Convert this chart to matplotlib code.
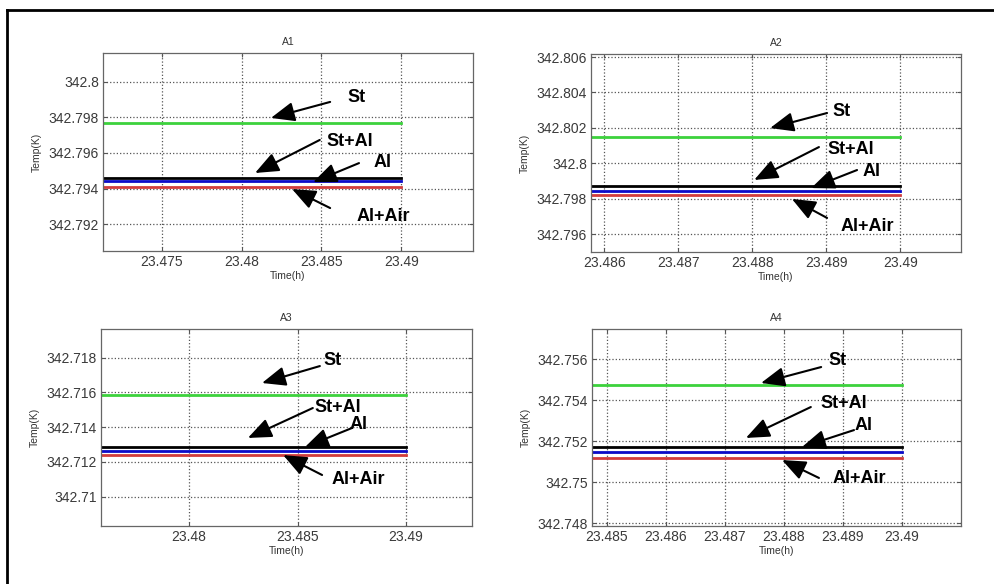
import matplotlib
matplotlib.use("Agg")
import matplotlib.pyplot as plt
from matplotlib.lines import Line2D

plt.rcParams['font.family'] = ['Liberation Sans', 'DejaVu Sans']

# time span of the simulated lines (h)
t = [23.47, 23.49]

panels = ["A1", "A2", "A3", "A4"]
series = ["St+Al", "Al", "Al+Air", "St"]
colors = ["black", "#0a0ac8", "#d23c3c", "#3cd23c"]

# temperatures (K), one constant value per series, order as `series`
temp_A1 = [342.79462, 342.79442, 342.79411, 342.79769]
temp_A2 = [342.79870, 342.79844, 342.79821, 342.80148]
temp_A3 = [342.71283, 342.71262, 342.71237, 342.71584]
temp_A4 = [342.75172, 342.75146, 342.75120, 342.75475]
temps = [temp_A1, temp_A2, temp_A3, temp_A4]

xticks_A1 = [23.475, 23.48, 23.485, 23.49]
xticks_A2 = [23.486, 23.487, 23.488, 23.489, 23.49]
xticks_A3 = [23.48, 23.485, 23.49]
xticks_A4 = [23.485, 23.486, 23.487, 23.488, 23.489, 23.49]
xticks = [xticks_A1, xticks_A2, xticks_A3, xticks_A4]

yticks_A1 = [342.792, 342.794, 342.796, 342.798, 342.8]
yticks_A2 = [342.796, 342.798, 342.8, 342.802, 342.804, 342.806]
yticks_A3 = [342.71, 342.712, 342.714, 342.716, 342.718]
yticks_A4 = [342.748, 342.75, 342.752, 342.754, 342.756]
yticks = [yticks_A1, yticks_A2, yticks_A3, yticks_A4]

xlims = [(23.4713, 23.4945), (23.48582, 23.49082), (23.47594, 23.49304), (23.48475, 23.491)]
ylims = [(342.7905, 342.8016), (342.7950, 342.80617), (342.70831, 342.71965), (342.74787, 342.75746)]

# axes boxes in figure fractions
boxes = [
    [0.1036, 0.5702, 0.3722, 0.3390],
    [0.5946, 0.5685, 0.3722, 0.3390],
    [0.1016, 0.0993, 0.3732, 0.3373],
    [0.5956, 0.0993, 0.3712, 0.3373],
]

# annotation layout (axes fraction): label text pos, arrow tail, arrow tip
notes = [
    {"St": ((0.686, 0.773), (0.614, 0.753), (0.454, 0.672)),
     "St+Al": ((0.668, 0.551), (0.586, 0.561), (0.411, 0.394)),
     "Al": ((0.757, 0.449), (0.692, 0.444), (0.568, 0.348)),
     "Al+Air": ((0.757, 0.172), (0.614, 0.217), (0.511, 0.313))},
    {"St": ((0.678, 0.712), (0.638, 0.702), (0.484, 0.626)),
     "St+Al": ((0.703, 0.520), (0.616, 0.530), (0.441, 0.364)),
     "Al": ((0.759, 0.409), (0.719, 0.414), (0.595, 0.323)),
     "Al+Air": ((0.746, 0.131), (0.638, 0.172), (0.543, 0.268))},
    {"St": ((0.623, 0.838), (0.590, 0.812), (0.434, 0.726)),
     "St+Al": ((0.639, 0.604), (0.571, 0.599), (0.396, 0.447)),
     "Al": ((0.693, 0.513), (0.676, 0.497), (0.550, 0.401)),
     "Al+Air": ((0.693, 0.234), (0.596, 0.259), (0.491, 0.360))},
    {"St": ((0.664, 0.838), (0.621, 0.807), (0.458, 0.726)),
     "St+Al": ((0.683, 0.624), (0.593, 0.604), (0.417, 0.447)),
     "Al": ((0.737, 0.508), (0.710, 0.487), (0.569, 0.401)),
     "Al+Air": ((0.724, 0.239), (0.615, 0.244), (0.515, 0.335))},
]

fig = plt.figure(figsize=(9.94, 5.84), dpi=100)

# outer frame (left and top edges only are visible)
fig.add_artist(Line2D([0.007, 0.007], [-0.1, 0.983], color='black', lw=2))
fig.add_artist(Line2D([0.007, 1.1], [0.983, 0.983], color='black', lw=2))

for k in range(4):
    ax = fig.add_axes(boxes[k])
    for name, val, c in zip(series, temps[k], colors):
        ax.plot(t, [val, val], color=c, lw=2)
    ax.set_xlim(xlims[k])
    ax.set_ylim(ylims[k])
    ax.set_xticks(xticks[k])
    ax.set_xticklabels([f"{v:g}" for v in xticks[k]])
    ax.set_yticks(yticks[k])
    ax.set_yticklabels([f"{v:g}" for v in yticks[k]])
    ax.grid(True, linestyle=':', color='#555555', lw=0.9)
    ax.tick_params(direction='in', length=3, labelsize=10, labelcolor='#3a3a3a',
                   color='#555555', top=True, right=True, pad=3)
    for sp in ax.spines.values():
        sp.set_color('#666666')
        sp.set_linewidth(0.9)
    ax.set_title(panels[k], fontsize=7.5, color='#333333', pad=6)
    ax.set_xlabel("Time(h)", fontsize=7.5, color='#333333', labelpad=1)
    ax.set_ylabel("Temp(K)", fontsize=7.5, color='#333333', labelpad=5)

    for label, (txt, tail, tip) in notes[k].items():
        ax.annotate('', xy=tip, xytext=tail, xycoords='axes fraction',
                    textcoords='axes fraction',
                    arrowprops=dict(arrowstyle='-|>,head_length=0.85,head_width=0.35',
                                    mutation_scale=17, color='black', lw=1.5,
                                    shrinkA=0, shrinkB=0))
        ax.text(txt[0], txt[1], label, transform=ax.transAxes, fontsize=13,
                fontweight='bold', ha='center', va='center', color='black')

fig.savefig("out.png", dpi=100)
